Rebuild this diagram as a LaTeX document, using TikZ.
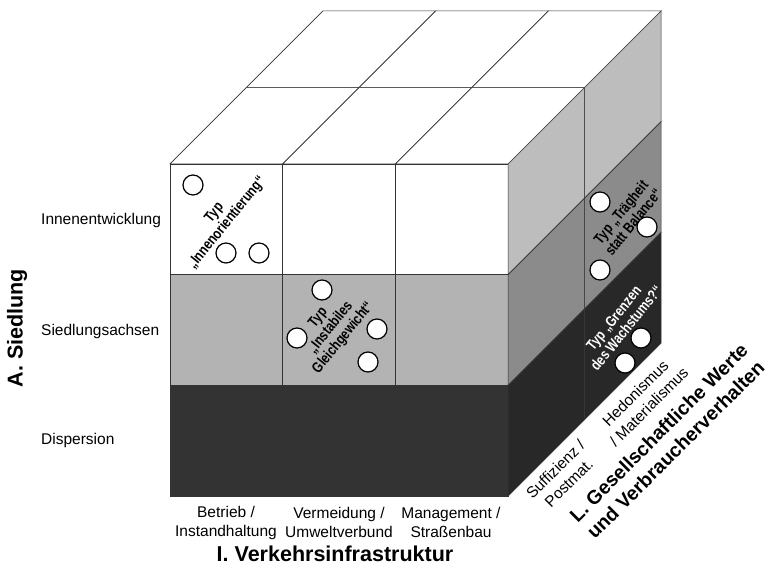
\documentclass[tikz,border=0pt]{standalone}
\usepackage{fontspec}
\setmainfont{Liberation Sans}
\newfontfamily\typfont[FakeStretch=0.8,BoldFeatures={FakeStretch=0.8}]{Liberation Sans}
\definecolor{frontmid}{HTML}{B3B3B3}
\definecolor{frontdark}{HTML}{333333}
\definecolor{sidetop}{HTML}{BDBDBD}
\definecolor{sidemid}{HTML}{8B8B8B}
\definecolor{sidedark}{HTML}{282828}
\begin{document}
\begin{tikzpicture}[x=1pt,y=1pt,
        cell/.style={draw=black!80,line width=.7pt},
        probe/.style={circle,draw,fill=white,line width=1.2pt,minimum size=20pt,inner sep=0pt},
        typlabel/.style={font=\typfont\bfseries\fontsize{15}{16}\selectfont,align=center,rotate=51,inner sep=0pt},
        rowlabel/.style={font=\fontsize{15.5}{19}\selectfont,anchor=west,inner sep=0pt},
        collabel/.style={font=\fontsize{15.5}{19}\selectfont,align=center,inner sep=0pt},
        axislabel/.style={font=\bfseries\fontsize{21.5}{25}\selectfont,align=center,inner sep=0pt}]
            \useasboundingbox (0,0) rectangle (770,567);
            \begin{scope}[shift={(170,71)},x={(112.7pt,0pt)},y={(0pt,110.7pt)},z={(76.5pt,76.5pt)}]
                % front face
                \foreach \c in {0,1,2}{
                    \foreach \r/\fc in {0/frontdark,1/frontmid,2/white}
                        \draw[cell,fill=\fc] (\c,\r,0) -- (\c+1,\r,0) -- (\c+1,\r+1,0) -- (\c,\r+1,0) -- cycle;
                }
                % right face
                \foreach \d in {0,1}{
                    \foreach \r/\fc in {0/sidedark,1/sidemid,2/sidetop}
                        \draw[cell,fill=\fc] (3,\r,\d) -- (3,\r+1,\d) -- (3,\r+1,\d+1) -- (3,\r,\d+1) -- cycle;
                }
                % top face
                \foreach \c in {0,1,2}{
                    \foreach \d in {0,1}
                        \draw[cell,fill=white] (\c,3,\d) -- (\c+1,3,\d) -- (\c+1,3,\d+1) -- (\c,3,\d+1) -- cycle;
                }
            \end{scope}
            % types
            \node[typlabel] at (221,349)(typInnen){Typ\\„Innenorientierung“};
            \node[typlabel] at (331,239)(typInstabil){Typ\\„Instabiles\\Gleichgewicht“};
            \node[typlabel] at (627,350)(typTraeg){Typ „Trägheit\\statt Balance“};
            \node[typlabel,text=white] at (620,244)(typGrenz){Typ „Grenzen\\des Wachstums?“};
            \foreach \px/\py [count=\i] in {193/382,226/314,259/314,322/277,297/229,377/238,368/205,600/365,647/340,600/297,641/229,625/204}
                \node[probe] at (\px,\py)(p\i){};
            % axes
            \node[rowlabel] at (41,346.5)(rowInnen){Innenentwicklung};
            \node[rowlabel] at (41,236)(rowAchsen){Siedlungsachsen};
            \node[rowlabel] at (41,126.5)(rowDisp){Dispersion};
            \node[axislabel,rotate=90] at (17,239)(axSiedlung){A. Siedlung};
            \node[collabel] at (226,44.5)(colBetrieb){Betrieb /\\Instandhaltung};
            \node[collabel] at (339,44.5)(colVermeid){Vermeidung /\\Umweltverbund};
            \node[collabel] at (451,44.5)(colManage){Management /\\Straßenbau};
            \node[axislabel] at (335,13)(axVerkehr){I. Verkehrsinfrastruktur};
            \node[collabel,rotate=45] at (562,91)(depSuff){Suffizienz /\\Postmat.};
            \node[collabel,rotate=45] at (642,167)(depHedon){Hedonismus\\/ Materialismus};
            \node[axislabel,font=\bfseries\fontsize{19.5}{24}\selectfont,rotate=45] at (667,126)(axWerte){L. Gesellschaftliche Werte\\und Verbraucherverhalten};
        \end{tikzpicture}
\end{document}
